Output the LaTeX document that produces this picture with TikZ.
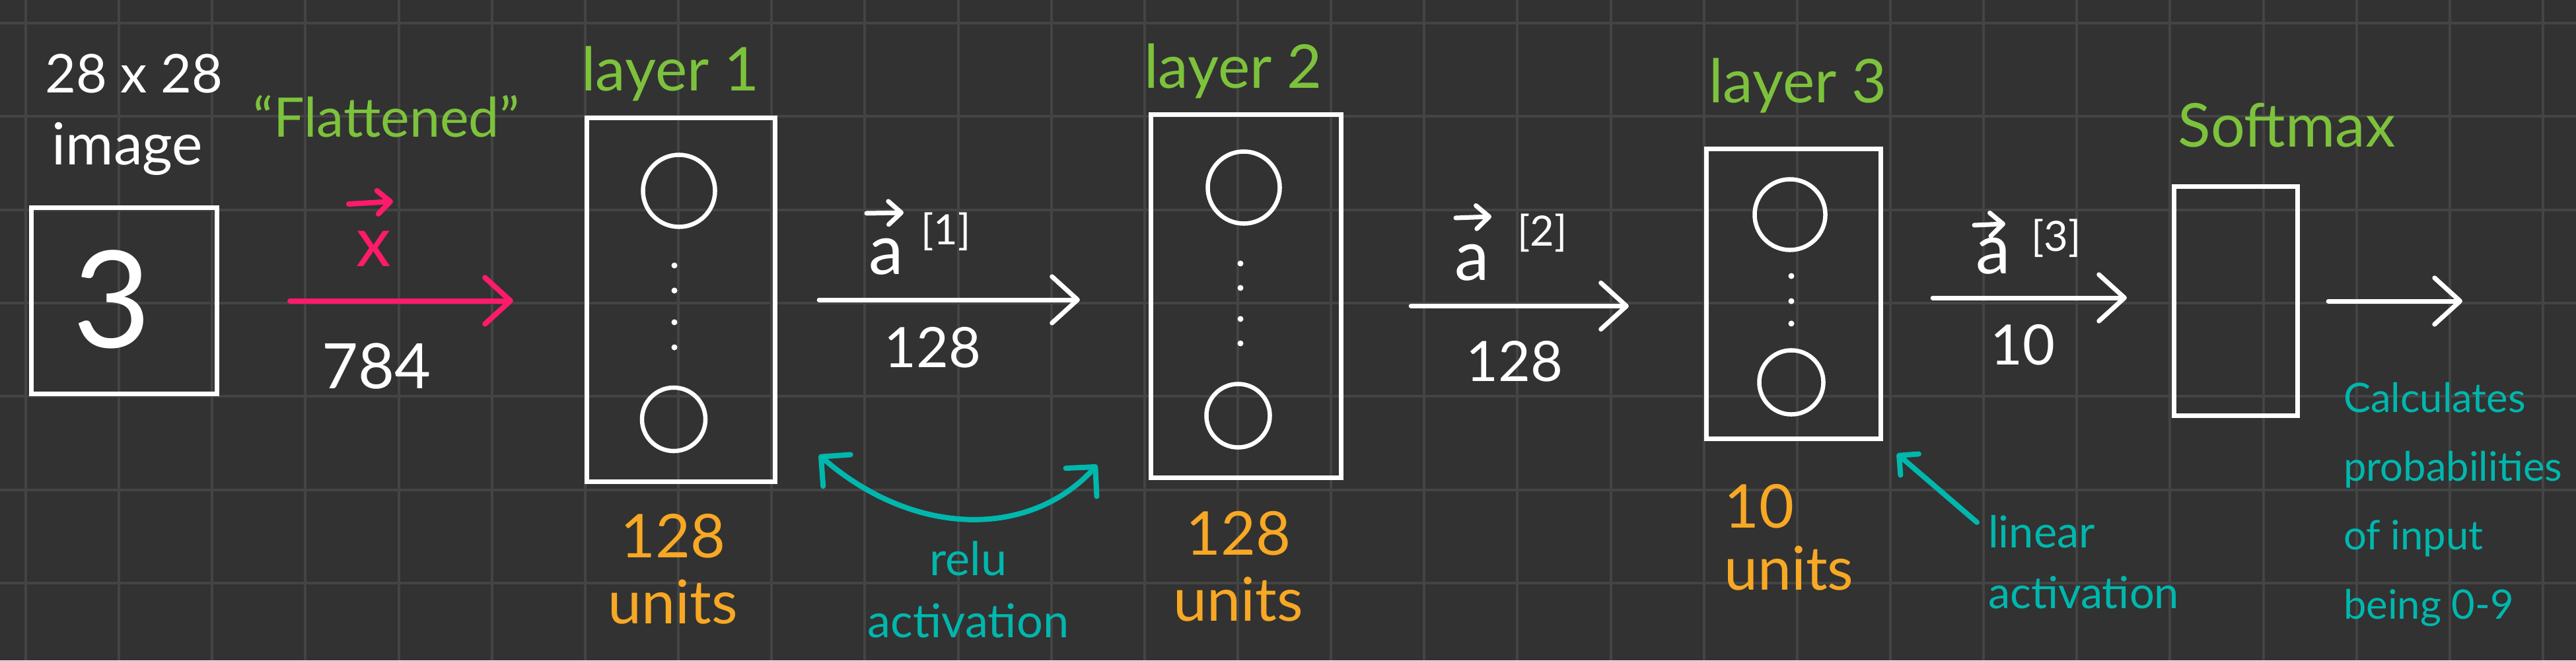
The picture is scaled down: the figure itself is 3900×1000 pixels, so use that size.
\documentclass[tikz,border=0pt]{standalone}
\usepackage{fontspec}
\setmainfont{Lato}
\usetikzlibrary{arrows.meta,calc}
\definecolor{bgc}{HTML}{323232}
\definecolor{gridc}{HTML}{444444}
\definecolor{hgreen}{HTML}{7DC23C}
\definecolor{hpink}{HTML}{FF1A6B}
\definecolor{horange}{HTML}{F7A824}
\definecolor{hteal}{HTML}{00B7AD}
\tikzset{
  gridline/.style={draw=gridc, line width=0.04cm},
  boxnode/.style={draw=white, line width=0.07cm, inner sep=0, rectangle},
  neuron/.style={draw=white, line width=0.065cm, circle, inner sep=0},
  hand/.style={inner sep=0, outer sep=0, anchor=base},
  whitetxt/.style={hand, text=white},
  greentxt/.style={hand, text=hgreen, font=\fontsize{26}{30}\selectfont},
  orangetxt/.style={hand, text=horange, font=\fontsize{26}{28.2}\selectfont, align=center},
  tealtxt/.style={hand, text=hteal, font=\fontsize{20}{26.5}\selectfont},
  wline/.style={draw=white, line width=0.07cm, line cap=round, line join=round},
  pline/.style={draw=hpink, line width=0.08cm, line cap=round, line join=round},
  tline/.style={draw=hteal, line width=0.08cm, line cap=round, line join=round},
  bigchev/.style={-{Straight Barb[length=11pt,width=20pt,round]}},
  smallchev/.style={-{Straight Barb[length=5.5pt,width=10pt,round]}},
  bothcorner/.style={{Straight Barb[length=9pt,width=18pt,round]}-{Straight Barb[length=9pt,width=18pt,round]}},
}
\begin{document}
\begin{tikzpicture}[x=0.01cm,y=-0.01cm]
\useasboundingbox (0,0) rectangle (3900,1000);
\fill[bgc] (0,0) rectangle (3900,1000);
\foreach \i in {0,...,27} \draw[gridline] ({39+141.15*\i},0) -- ({39+141.15*\i},1000);
\foreach \j in {0,...,6} \draw[gridline] (0,{35+141.3*\j}) -- (3900,{35+141.3*\j});

% ---------- input image ----------
\node[whitetxt, font=\fontsize{23}{30}\selectfont] (dimtxt) at (203,140) {28 x 28};
\node[whitetxt, font=\fontsize{25}{30}\selectfont] (imgtxt) at (193,249) {image};
\node[boxnode, minimum width=2.81cm, minimum height=2.82cm] (img) at (188,455.5) {};
\node[whitetxt, font=\fontsize{58}{60}\selectfont] (three) at (170,526) {3};

% ---------- flatten ----------
\node[greentxt, font=\fontsize{23.5}{28}\selectfont] (flat) at (585,207) {“Flattened”};
\node[hand, text=hpink, font=\fontsize{30}{32}\selectfont] (xv) at (566,403) {x};
\node[whitetxt, font=\fontsize{27}{30}\selectfont] (n784) at (570,588) {784};

% ---------- layer 1 ----------
\node[greentxt] (t1) at (1015,137) {layer 1};
\node[boxnode, minimum width=2.85cm, minimum height=5.51cm] (l1) at (1031,454) {};
\node[neuron, minimum size=1.09cm] (l1a) at (1028,289) {};
\node[neuron, minimum size=0.96cm] (l1b) at (1020,635) {};
\foreach \y in {402,440,488,526} \fill[white] (1021,\y) circle[radius=0.045cm];
\node[orangetxt] (u1) at (1019,944) {128\\units};

% ---------- a[1] ----------
\node[whitetxt, font=\fontsize{30}{32}\selectfont] (a1) at (1342,415) {a};
\node[whitetxt, font=\fontsize{18}{20}\selectfont] (a1s) at (1432,370) {[1]};
\node[whitetxt, font=\fontsize{24}{26}\selectfont] (n128a) at (1412,556) {128};

% ---------- relu ----------
\coordinate (reluL) at (1240,689);
\coordinate (reluR) at (1661,704);
\node[tealtxt, align=center] (relu) at (1466,965) {relu\\activation};

% ---------- layer 2 ----------
\node[greentxt] (t2) at (1867,133) {layer 2};
\node[boxnode, minimum width=2.88cm, minimum height=5.50cm] (l2) at (1886.5,448.5) {};
\node[neuron, minimum size=1.09cm] (l2a) at (1883,284) {};
\node[neuron, minimum size=0.96cm] (l2b) at (1874.5,629.5) {};
\foreach \y in {399,436,483,520} \fill[white] (1878,\y) circle[radius=0.045cm];
\node[orangetxt] (u2) at (1875,940) {128\\units};

% ---------- a[2] ----------
\node[whitetxt, font=\fontsize{30}{32}\selectfont] (a2) at (2229,424) {a};
\node[whitetxt, font=\fontsize{18}{20}\selectfont] (a2s) at (2335,372) {[2]};
\node[whitetxt, font=\fontsize{24}{26}\selectfont] (n128b) at (2293,577) {128};

% ---------- layer 3 ----------
\node[greentxt] (t3) at (2722,155) {layer 3};
\node[boxnode, minimum width=2.64cm, minimum height=4.39cm] (l3) at (2715.5,445) {};
\node[neuron, minimum size=1.07cm] (l3a) at (2710,325) {};
\node[neuron, minimum size=0.97cm] (l3b) at (2712,579) {};
\foreach \y in {418,456,490} \fill[white] (2712,\y) circle[radius=0.045cm];
\node[orangetxt, align=left, anchor=base west, font=\fontsize{26}{26.5}\selectfont] (u3) at (2610,893) {10\\units};

% ---------- a[3] ----------
\node[whitetxt, font=\fontsize{30}{32}\selectfont] (a3) at (3018,414) {a};
\node[whitetxt, font=\fontsize{18}{20}\selectfont] (a3s) at (3113,380) {[3]};
\node[whitetxt, font=\fontsize{24}{26}\selectfont] (n10) at (3062,552) {10};

% ---------- linear ----------
\node[tealtxt, align=left, anchor=base west, font=\fontsize{19}{26}\selectfont] (lin) at (3010,921) {linear\\activation};
\coordinate (linTail) at (2993,791);

% ---------- softmax ----------
\node[greentxt, font=\fontsize{26}{30}\selectfont] (tsm) at (3462,222) {Softmax};
\node[boxnode, minimum width=1.87cm, minimum height=3.47cm] (sm) at (3385,456) {};
\coordinate (outEnd) at (3728,456);
\node[tealtxt, align=left, anchor=base west, font=\fontsize{17.5}{29.6}\selectfont] (calc) at (3548,937) {Calculates\\probabilities\\of input\\being 0-9};

% ---------- connectors ----------
\draw[pline, bigchev, shorten <=1.07cm, shorten >=1.08cm] (img.east) -- (img.east -| l1.west);
\draw[wline, bigchev, shorten <=0.63cm, shorten >=1.04cm] (l1.east) -- (l1.east -| l2.west);
\draw[wline, bigchev, shorten <=1.02cm, shorten >=1.14cm] ($(l2.east)+(0,15)$) -- ($(l2.east -| l3.west)+(0,15)$);
\draw[wline, bigchev, shorten <=0.75cm, shorten >=0.68cm] ($(l3.east)+(0,6)$) -- ($(l3.east -| sm.west)+(0,6)$);
\draw[wline, bigchev, shorten <=0.43cm] (sm.east) -- (outEnd);

% vector arrows over labels
\draw[pline, smallchev] ($(xv.base)+(-38,-94)$) -- ($(xv.base)+(29,-98)$);
\draw[wline, smallchev] ($(a1.base)+(-30,-92)$) -- ($(a1.base)+(26,-93)$);
\draw[wline, smallchev] ($(a2.base)+(-25,-94)$) -- ($(a2.base)+(29,-96)$);
\draw[wline, smallchev] ($(a3.base)+(-29,-73)$) -- ($(a3.base)+(18,-75)$);

% activation arrows
\draw[tline, bothcorner] (reluL) .. controls (1385,815) and (1560,815) .. (reluR);
\draw[tline, -{Straight Barb[length=6pt,width=12pt,round]}] (linTail) -- ($(l3.south east)+(21,19)$);
\end{tikzpicture}
\end{document}
